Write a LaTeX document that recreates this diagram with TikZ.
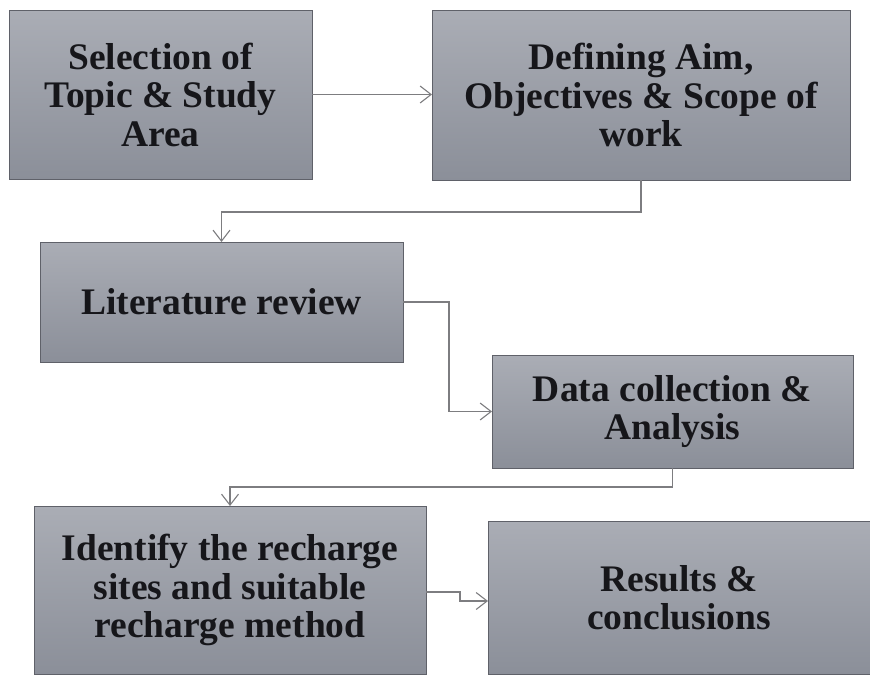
\documentclass[tikz,border=0pt]{standalone}
\usepackage{fontspec}
\setmainfont{Liberation Serif}
\usetikzlibrary{arrows.meta,calc}
\definecolor{boxtop}{RGB}{170,173,181}
\definecolor{boxbot}{RGB}{139,143,153}
\definecolor{boxline}{RGB}{95,97,105}
\definecolor{conn}{RGB}{125,125,128}
\definecolor{txt}{RGB}{22,22,26}
\tikzset{
  stepbox/.style={draw=boxline, line width=0.9pt, top color=boxtop, bottom color=boxbot,
    inner sep=0pt, outer sep=0pt, align=center, text=txt,
    font=\fontsize{37.5}{38.5}\selectfont\bfseries},
  link/.style={draw=conn, line width=1.3pt, -{Straight Barb[length=11pt,width=17pt,line width=1.1pt]}}
}
\begin{document}
\begin{tikzpicture}[x=1pt,y=-1pt]
\useasboundingbox[fill=white] (0,0) rectangle (870,675);
\node[stepbox, minimum width=303pt, minimum height=169pt] (b1) at (160.5,94.5) {Selection of\\Topic \& Study\\Area};
\node[stepbox, minimum width=418pt, minimum height=170pt] (b2) at (641,95) {Defining Aim,\\Objectives \& Scope of\\work};
\node[stepbox, minimum width=363pt, minimum height=120pt] (b3) at (221.5,302) {Literature review};
\node[stepbox, minimum width=361pt, minimum height=113pt] (b4) at (672.5,411.5) {Data collection \&\\Analysis};
\node[stepbox, minimum width=392pt, minimum height=168pt] (b5) at (230,590) {Identify the recharge\\sites and suitable\\recharge method};
\node[stepbox, minimum width=382pt, minimum height=153pt] (b6) at (679,597.5) {Results \&\\conclusions};
\draw[link] (b1.east) -- (b1.east -| b2.west);
\draw[link] (b2.south) -- ++(0,32) -| (b3.north);
\draw[link] (b3.east) -- ++(46,0) |- (b4.west);
\draw[link] (b4.south) -- ++(0,19) -| (b5.north);
\coordinate (c6) at ([yshift=-3.5pt]b6.west);
\draw[link] ([yshift=-2pt]b5.east) -- ++(34,0) |- (c6);
\end{tikzpicture}
\end{document}
